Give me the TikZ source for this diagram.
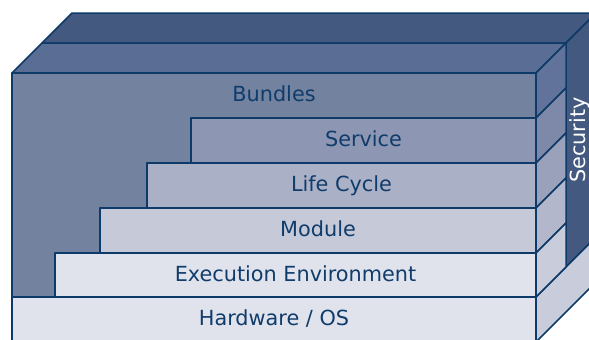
\documentclass[tikz,border=0pt]{standalone}
\usepackage{fontspec}
\setmainfont{DejaVu Sans}
\usepackage{tikz}
\usetikzlibrary{positioning,calc}

\definecolor{edge}{HTML}{0D3A68}
\definecolor{ink}{HTML}{103C6C}
\definecolor{secfill}{HTML}{44597F}
\definecolor{topfill}{HTML}{596D95}
\definecolor{bndfill}{HTML}{72829F}
\definecolor{bndside}{HTML}{61739A}
\definecolor{srvfill}{HTML}{8D96B3}
\definecolor{srvside}{HTML}{7E89A9}
\definecolor{lcfill}{HTML}{AAB0C6}
\definecolor{lcside}{HTML}{9AA1BB}
\definecolor{modfill}{HTML}{C5C9D8}
\definecolor{modside}{HTML}{B2B7CB}
\definecolor{exfill}{HTML}{E0E3EB}
\definecolor{exside}{HTML}{C9CCDB}

\begin{document}
\begin{tikzpicture}[x=1pt, y=-1pt, line join=round,
  every node/.style={font=\fontsize{20.8}{24}\selectfont, text=ink, text height=15.2pt, text depth=3pt},
  face/.style={draw=edge, line width=1.5pt},
  layer/.style={draw=edge, line width=1.5pt, rectangle, minimum height=45pt, inner sep=0pt}]
  \useasboundingbox (0,0) rectangle (589,340);

  % Security slab behind the stack
  \filldraw[face, fill=secfill] (42,43) -- (566,43) -- (596,13) -- (72,13) -- cycle;
  \filldraw[face, fill=secfill] (566,43) -- (596,13) -- (596,237) -- (566,267) -- cycle;
  \node[rotate=90, text=white, text depth=0pt, inner sep=0pt] (security) at (578,140) {Security};

  % Hardware side, full depth
  \filldraw[face, fill=exside] (536,297) -- (596,237) -- (596,282) -- (536,342) -- cycle;

  % top of the layer stack
  \filldraw[face, fill=topfill] (12,73) -- (536,73) -- (566,43) -- (42,43) -- cycle;

  % Bundles
  \filldraw[face, fill=bndfill] (12,73) rectangle (536,297);
  \filldraw[face, fill=bndside] (536,73) -- (566,43) -- (566,88) -- (536,118) -- cycle;
  \node (bundles) at (274,95.5) {Bundles};

  % Service
  \node[layer, fill=srvfill, minimum width=345pt] (service) at (363.5,140.5) {Service};
  \filldraw[face, fill=srvside] (536,118) -- (566,88) -- (566,133) -- (536,163) -- cycle;

  % Life Cycle
  \node[layer, fill=lcfill, minimum width=389pt] (lifecycle) at (341.5,185.5) {Life Cycle};
  \filldraw[face, fill=lcside] (536,163) -- (566,133) -- (566,178) -- (536,208) -- cycle;

  % Module
  \node[layer, fill=modfill, minimum width=436pt] (module) at (318,230.5) {Module};
  \filldraw[face, fill=modside] (536,208) -- (566,178) -- (566,223) -- (536,253) -- cycle;

  % Execution Environment
  \node[layer, fill=exfill, minimum width=481pt, minimum height=44pt] (exec) at (295.5,275) {Execution Environment};
  \filldraw[face, fill=exside] (536,253) -- (566,223) -- (566,267) -- (536,297) -- cycle;

  % Hardware / OS
  \node[layer, fill=exfill, minimum width=524pt] (hw) at (274,319.5) {Hardware / OS};
\end{tikzpicture}
\end{document}
